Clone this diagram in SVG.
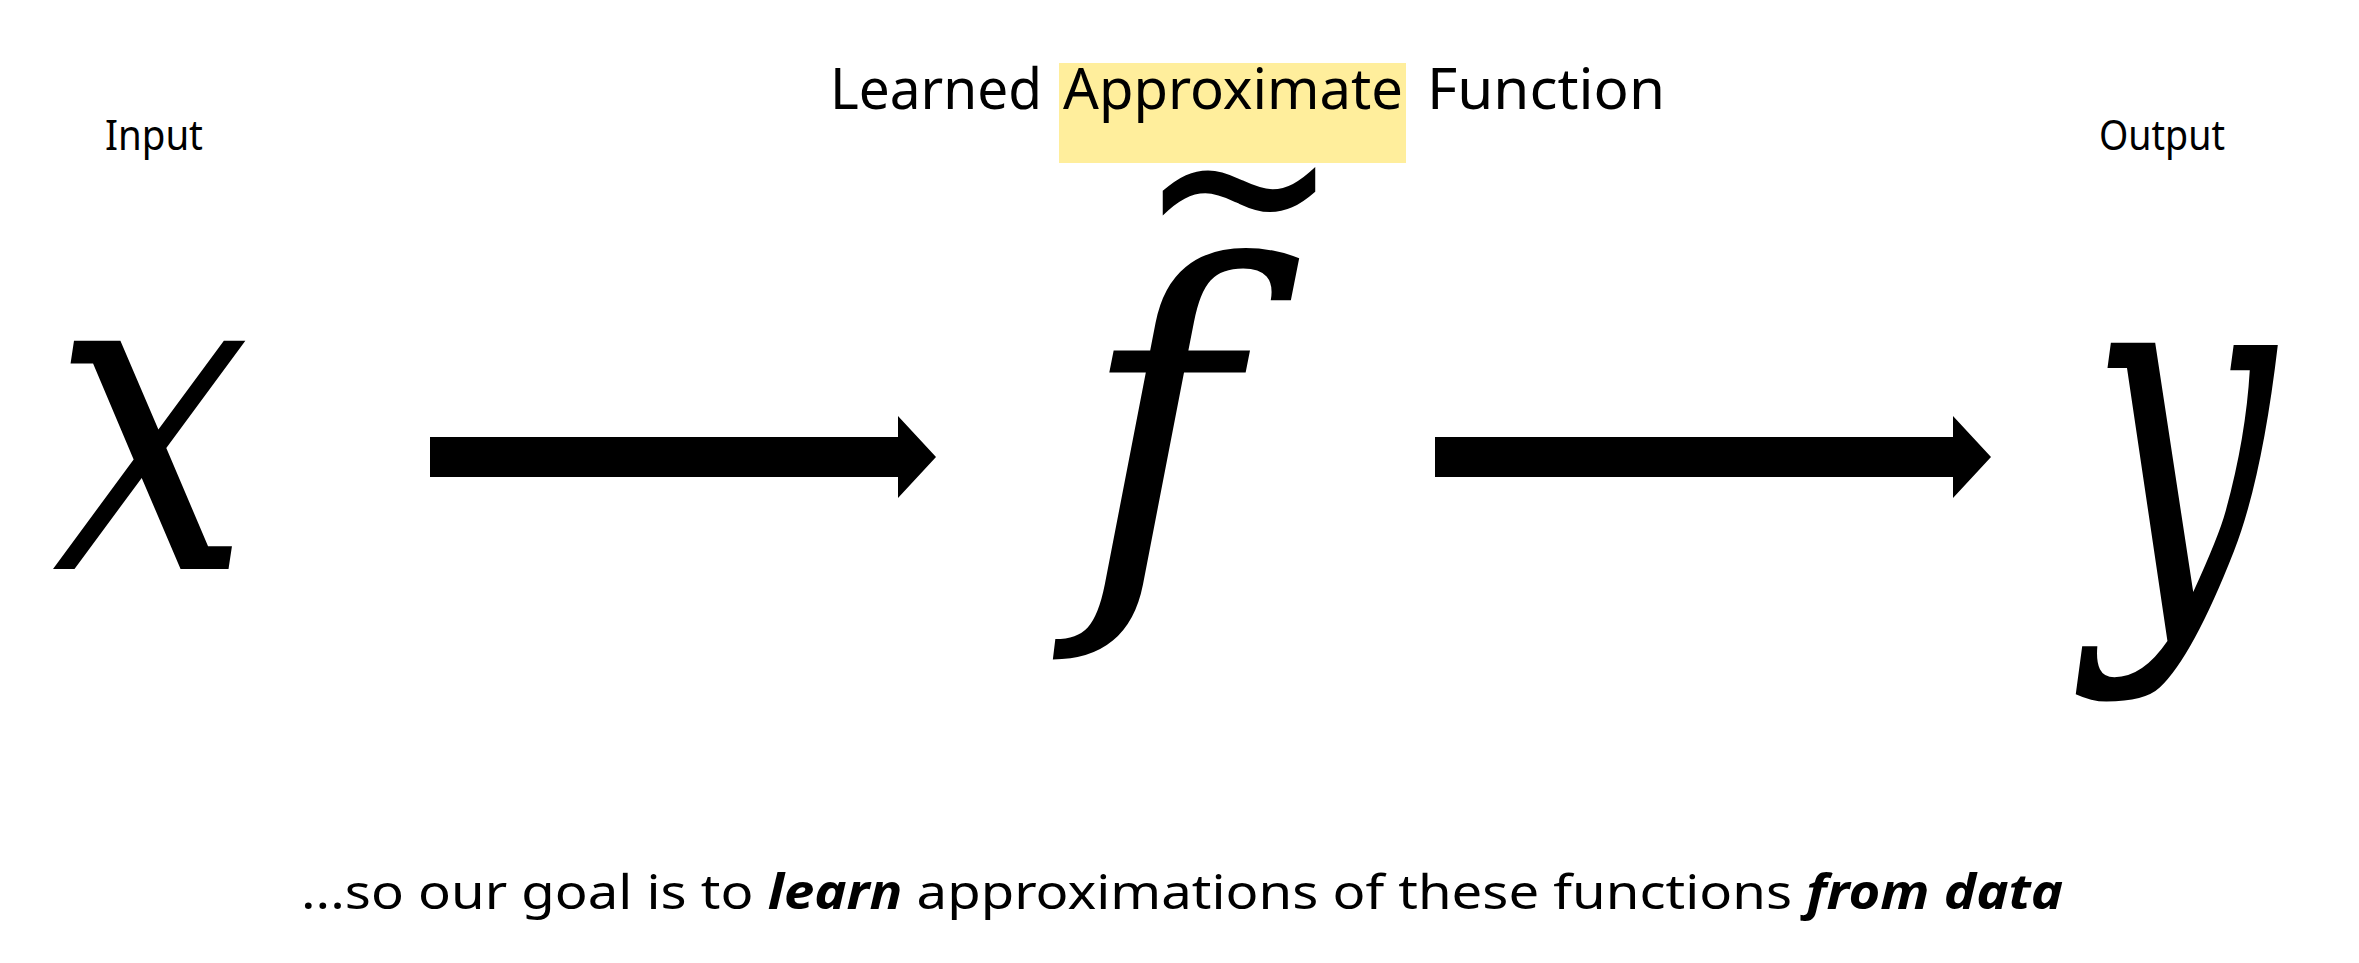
<svg xmlns="http://www.w3.org/2000/svg" width="2359" height="963" viewBox="0 0 2359 963">
<style>
.lbl{font-family:"Noto Sans","Open Sans","Liberation Sans",sans-serif;fill:#000}
.title{font-size:56px}
.io{font-size:42px}
.math{font-family:"DejaVu Serif","Liberation Serif",serif;font-style:italic;fill:#000}
.note{font-family:"Noto Sans","Open Sans","Liberation Sans",sans-serif;font-size:48px;fill:#000}
.em{font-weight:bold;font-style:italic}
.arrow{fill:#000}
</style>
<rect width="2359" height="963" fill="#fff"/>
<g id="function">
<text class="math" font-size="425" x="1079" y="571">f</text>
<text x="0" y="69" text-anchor="middle" font-family="DejaVu Sans,sans-serif" font-size="210" transform="translate(1239,187) scale(1.16,1.35)" fill="#000">~</text>
</g>
<g id="title">
<rect x="1059" y="63" width="347" height="100" fill="#FFEE9C"/>
<text class="lbl title" x="830" y="109" textLength="212" lengthAdjust="spacingAndGlyphs">Learned</text>
<text class="lbl title" x="1063" y="109" textLength="340" lengthAdjust="spacingAndGlyphs">Approximate</text>
<text class="lbl title" x="1427" y="109" textLength="238" lengthAdjust="spacingAndGlyphs">Function</text>
</g>
<g id="input">
<text class="lbl io" x="105" y="150" textLength="98" lengthAdjust="spacingAndGlyphs">Input</text>
<text class="math" font-size="440" transform="translate(52,569) scale(0.8,1)">x</text>
</g>
<g id="output">
<text class="lbl io" x="2099" y="150" textLength="126" lengthAdjust="spacingAndGlyphs">Output</text>
<text class="math" font-size="440" transform="translate(2088,594) scale(0.75,1.1)">y</text>
</g>
<g id="connectors">
<polygon class="arrow" points="430,437 898,437 898,416 936,457 898,498 898,477 430,477"/>
<polygon class="arrow" points="1435,437 1953,437 1953,416 1991,457 1953,498 1953,477 1435,477"/>
</g>
<g id="caption">
<text class="note" x="301" y="909" textLength="1762" lengthAdjust="spacingAndGlyphs">...so our goal is to <tspan class="em">learn</tspan> approximations of these functions <tspan class="em">from data</tspan></text>
</g>
</svg>
